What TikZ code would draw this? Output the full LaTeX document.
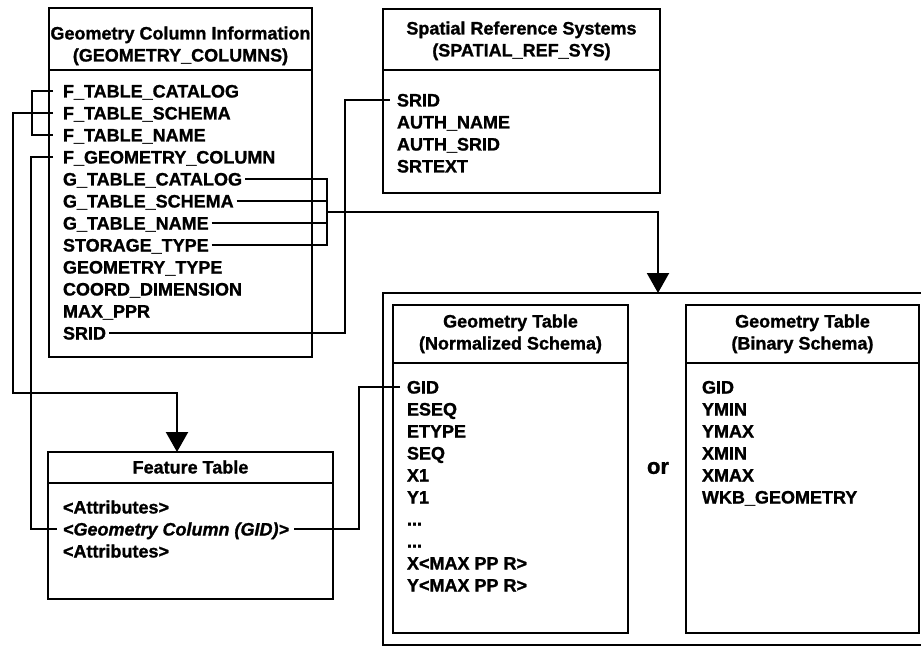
\documentclass[tikz,border=0pt]{standalone}
\usepackage{fontspec}
\setmainfont{Liberation Sans}[BoldFeatures={FakeBold=1.2},BoldItalicFeatures={FakeBold=1.2}]
\usetikzlibrary{arrows.meta}
\begin{document}
\begin{tikzpicture}[x=1pt,y=-1pt,
 tbox/.style={draw, line width=2.8pt, inner sep=0pt, outer sep=0pt, anchor=north west},
 rowtxt/.style={anchor=west, inner sep=0pt, outer sep=0pt, text height=13pt, text depth=0pt, font=\fontsize{18pt}{22pt}\selectfont\bfseries},
 ttl/.style={anchor=base, inner sep=0pt, outer sep=0pt, font=\fontsize{18pt}{22pt}\selectfont\bfseries},
 conn/.style={line width=2.2pt},
 arr/.style={conn, -{Triangle[width=22pt,length=20pt]}}]
\fill[white] (0,0) rectangle (921,647);
\useasboundingbox (0,0) rectangle (921,647);

% ---------- Geometry Column Information ----------
\node[tbox, minimum width=263pt, minimum height=62pt] (gch) at (49,8) {};
\node[tbox, minimum width=263pt, minimum height=287pt] (gcb) at (49,70) {};
\node[ttl] (gct1) at (180.5,39.5) {Geometry Column Information};
\node[ttl] (gct2) at (180.5,61.5) {(GEOMETRY\_COLUMNS)};
\node[rowtxt] (ftc) at (63,91) {F\_TABLE\_CATALOG};
\node[rowtxt] (fts) at (63,113) {F\_TABLE\_SCHEMA};
\node[rowtxt] (ftn) at (63,135) {F\_TABLE\_NAME};
\node[rowtxt] (fgc) at (63,157) {F\_GEOMETRY\_COLUMN};
\node[rowtxt] (gtc) at (63,179) {G\_TABLE\_CATALOG};
\node[rowtxt] (gts) at (63,201) {G\_TABLE\_SCHEMA};
\node[rowtxt] (gtn) at (63,223) {G\_TABLE\_NAME};
\node[rowtxt] (sty) at (63,245) {STORAGE\_TYPE};
\node[rowtxt] (gty) at (63,267) {GEOMETRY\_TYPE};
\node[rowtxt] (cdm) at (63,289) {COORD\_DIMENSION};
\node[rowtxt] (mpp) at (63,311) {MAX\_PPR};
\node[rowtxt] (gsrid) at (63,333) {SRID};

% ---------- Spatial Reference Systems ----------
\node[tbox, minimum width=277pt, minimum height=61pt] (srh) at (383,9) {};
\node[tbox, minimum width=277pt, minimum height=123pt] (srb) at (383,70) {};
\node[ttl] (srt1) at (521.5,34.5) {Spatial Reference Systems};
\node[ttl] (srt2) at (521.5,56.5) {(SPATIAL\_REF\_SYS)};
\node[rowtxt] (ssrid) at (397,100) {SRID};
\node[rowtxt] (san) at (397,122) {AUTH\_NAME};
\node[rowtxt] (sas) at (397,144) {AUTH\_SRID};
\node[rowtxt] (sst) at (397,166) {SRTEXT};

% ---------- Outer container ----------
\node[tbox, minimum width=542pt, minimum height=352pt] (ob) at (383,293) {};

% ---------- Normalized schema ----------
\node[tbox, minimum width=235pt, minimum height=58pt] (nh) at (393,305) {};
\node[tbox, minimum width=235pt, minimum height=270pt] (nb) at (393,363) {};
\node[ttl] (nt1) at (510.5,327.5) {Geometry Table};
\node[ttl] (nt2) at (510.5,349.5) {(Normalized Schema)};
\node[rowtxt] (ngid) at (407,387) {GID};
\node[rowtxt] (nes) at (407,409) {ESEQ};
\node[rowtxt] (net) at (407,431) {ETYPE};
\node[rowtxt] (nsq) at (407,453) {SEQ};
\node[rowtxt] (nx1) at (407,475) {X1};
\node[rowtxt] (ny1) at (407,497) {Y1};
\node[rowtxt] (nd1) at (407,519) {...};
\node[rowtxt] (nd2) at (407,541) {...};
\node[rowtxt] (nxm) at (407,563) {X<MAX PP R>};
\node[rowtxt] (nym) at (407,585) {Y<MAX PP R>};

% ---------- Binary schema ----------
\node[tbox, minimum width=233pt, minimum height=58pt] (bh) at (686,305) {};
\node[tbox, minimum width=233pt, minimum height=270pt] (bb) at (686,363) {};
\node[ttl] (bt1) at (802.5,327.5) {Geometry Table};
\node[ttl] (bt2) at (802.5,349.5) {(Binary Schema)};
\node[rowtxt] (bgid) at (702,387) {GID};
\node[rowtxt] (bymin) at (702,409) {YMIN};
\node[rowtxt] (bymax) at (702,431) {YMAX};
\node[rowtxt] (bxmin) at (702,453) {XMIN};
\node[rowtxt] (bxmax) at (702,475) {XMAX};
\node[rowtxt] (bwkb) at (702,497) {WKB\_GEOMETRY};

\node[inner sep=0pt, font=\fontsize{22pt}{26pt}\selectfont\bfseries] (ortxt) at (658,468) {or};

% ---------- Feature Table ----------
\node[tbox, minimum width=285pt, minimum height=31pt] (fh) at (48,452) {};
\node[tbox, minimum width=285pt, minimum height=116pt] (fb) at (48,483) {};
\node[ttl] (ftt) at (190.5,473.5) {Feature Table};
\node[rowtxt] (fa1) at (63,507) {<Attributes>};
\node[rowtxt] (fgid) at (63,529) {\itshape <Geometry Column (GID)>};
\node[rowtxt] (fa2) at (63,551) {<Attributes>};

% ---------- Connectors ----------
% F_TABLE_CATALOG / F_TABLE_NAME bracket
\draw[conn] ([xshift=-10pt]ftc.west) -- ++(-21,0) |- ([xshift=-10pt]ftn.west);
% F_TABLE_SCHEMA -> Feature Table
\coordinate (b1) at (13,393);
\draw[arr] ([xshift=-10pt]fts.west) -| (b1) -| ([xshift=-13.5pt]fh.north);
% F_GEOMETRY_COLUMN -> Geometry Column (GID)
\draw[conn] ([xshift=-10pt]fgc.west) -- ++(-22,0) |- ([xshift=-6pt]fgid.west);
% G_ columns bracket -> geometry tables
\coordinate (gx) at (327,212);
\draw[conn] ([xshift=3pt]gtc.east) -| (gx);
\draw[conn] ([xshift=3pt]gts.east) -| (gx);
\draw[conn] ([xshift=3pt]gtn.east) -| (gx);
\draw[conn] ([xshift=3pt]sty.east) -| (gx);
\draw[arr] (gx) -| ([xshift=4pt]ob.north);
% SRID -> SRID
\coordinate (sj) at (345,0);
\draw[conn] ([xshift=3pt]gsrid.east) -- (gsrid.east -| sj) -- (sj |- ssrid.west) -- ([xshift=-7pt]ssrid.west);
% Geometry Column (GID) -> GID
\coordinate (gj) at (359,0);
\draw[conn] ([xshift=5pt]fgid.east) -- (fgid.east -| gj) -- (gj |- ngid.west) -- ([xshift=-7pt]ngid.west);
\end{tikzpicture}
\end{document}
